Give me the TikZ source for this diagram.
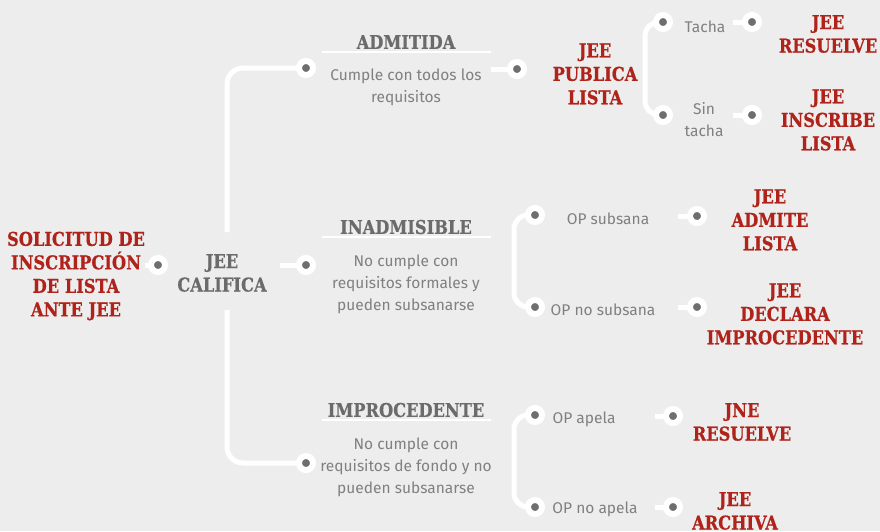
\documentclass[tikz,border=0pt]{standalone}
\usepackage{fontspec}
\setmainfont{Fira Sans}
\newfontfamily\slab{DejaVu Serif Condensed}[FakeStretch=0.95,FakeBold=0.6]
\definecolor{bgc}{HTML}{EDEDED}
\definecolor{redc}{HTML}{B0231A}
\definecolor{headc}{HTML}{6B6B6B}
\definecolor{bodyc}{HTML}{808080}
\definecolor{dotc}{HTML}{6E6E6E}
\pgfdeclarelayer{bg}
\pgfdeclarelayer{canvas}
\pgfsetlayers{canvas,bg,main}
\tikzset{
  redt/.style={text=redc, font=\slab\bfseries\fontsize{19}{23.5}\selectfont, align=center, inner sep=0pt},
  grayh/.style={text=headc, font=\slab\bfseries\fontsize{19}{23.5}\selectfont, align=center, inner sep=0pt},
  body/.style={text=bodyc, font=\fontsize{15.5}{22}\selectfont, align=center, inner sep=0pt},
  dotn/.style={circle, fill=dotc, draw=white, line width=6pt, minimum size=14pt, inner sep=0pt},
  conn/.style={draw=white, line width=5pt},
  uline/.style={draw=white, line width=2pt},
}
\begin{document}
\begin{tikzpicture}[x=1pt,y=-1pt]
\begin{pgfonlayer}{canvas}
\fill[bgc] (0,0) rectangle (880,531);
\end{pgfonlayer}
\useasboundingbox (0,0) rectangle (880,531);
% first level
\node[redt] (sol) at (76,276) {SOLICITUD DE\\INSCRIPCIÓN\\DE LISTA\\ANTE JEE};
\node[dotn] (d0) at (158,265) {};
\node[grayh] (cal) at (222,273) {JEE\\CALIFICA};
\coordinate (ctop) at (227,232);
\coordinate (cbot) at (227,310);
\coordinate (cI) at (280,265);
\node[dotn] (dA) at (306,68) {};
\node[dotn] (dI) at (306,265) {};
\node[dotn] (dP) at (306,463) {};
% ADMITIDA
\node[grayh] (hA) at (406,42) {ADMITIDA};
\draw[uline] (322,52) -- (491,52);
\node[body] (bA) at (406,87) {Cumple con todos los\\requisitos};
\coordinate (eA) at (491,69);
\node[dotn] (dA2) at (517,69) {};
\node[redt] (pub) at (595,74) {JEE\\PUBLICA\\LISTA};
\node[dotn] (dT1) at (663,22) {};
\node[dotn] (dT2) at (663,115) {};
\node[body] (tacha) at (705,27) {Tacha};
\node[body] (sint) at (704,120) {Sin\\tacha};
\coordinate (eT1) at (733,22);
\coordinate (eT2) at (733,115);
\node[dotn] (dT3) at (752,22) {};
\node[dotn] (dT4) at (752,115) {};
\node[redt] (res1) at (828,34) {JEE\\RESUELVE};
\node[redt] (ins) at (828,120) {JEE\\INSCRIBE\\LISTA};
% INADMISIBLE
\node[grayh] (hI) at (406,227) {INADMISIBLE};
\draw[uline] (322,237) -- (491,237);
\node[body] (bI) at (406,284) {No cumple con\\requisitos formales y\\pueden subsanarse};
\node[dotn] (dI1) at (535,215) {};
\node[dotn] (dI2) at (535,307) {};
\node[body] (osub) at (608,219) {OP subsana};
\node[body] (onosub) at (603,310) {OP no subsana};
\coordinate (eI1) at (678,216);
\coordinate (eI2) at (678,307);
\node[dotn] (dI3) at (697,216) {};
\node[dotn] (dI4) at (697,307) {};
\node[redt] (adm) at (770,220) {JEE\\ADMITE\\LISTA};
\node[redt] (dec) at (785,314) {JEE\\DECLARA\\IMPROCEDENTE};
% IMPROCEDENTE
\node[grayh] (hP) at (406,410) {IMPROCEDENTE};
\draw[uline] (322,420) -- (491,420);
\node[body] (bP) at (406,467) {No cumple con\\requisitos de fondo y no\\pueden subsanarse};
\node[dotn] (dP1) at (535,415) {};
\node[dotn] (dP2) at (535,507) {};
\node[body] (oap) at (584,419) {OP apela};
\node[body] (onoap) at (595,509) {OP no apela};
\coordinate (eP1) at (655,416);
\coordinate (eP2) at (655,507);
\node[dotn] (dP3) at (673,416) {};
\node[dotn] (dP4) at (673,507) {};
\node[redt] (jne) at (742,422) {JNE\\RESUELVE};
\node[redt] (arch) at (735,511) {JEE\\ARCHIVA};
% connectors
\begin{pgfonlayer}{bg}
\draw[conn] (sol.east |- d0) -- (d0.center);
\draw[conn, rounded corners=16pt] (ctop) |- (dA.center);
\draw[conn, rounded corners=16pt] (cbot) |- (dP.center);
\draw[conn] (cI) -- (dI.center);
\draw[conn] (eA) -- (dA2.center);
\draw[conn, rounded corners=14pt] (dT1.center) -- ++(-18,0) |- (dT2.center);
\draw[conn] (eT1) -- (dT3.center);
\draw[conn] (eT2) -- (dT4.center);
\draw[conn, rounded corners=14pt] (dI1.center) -- ++(-21,0) |- (dI2.center);
\draw[conn] (eI1) -- (dI3.center);
\draw[conn] (eI2) -- (dI4.center);
\draw[conn, rounded corners=14pt] (dP1.center) -- ++(-21,0) |- (dP2.center);
\draw[conn] (eP1) -- (dP3.center);
\draw[conn] (eP2) -- (dP4.center);
\end{pgfonlayer}
\end{tikzpicture}
\end{document}
